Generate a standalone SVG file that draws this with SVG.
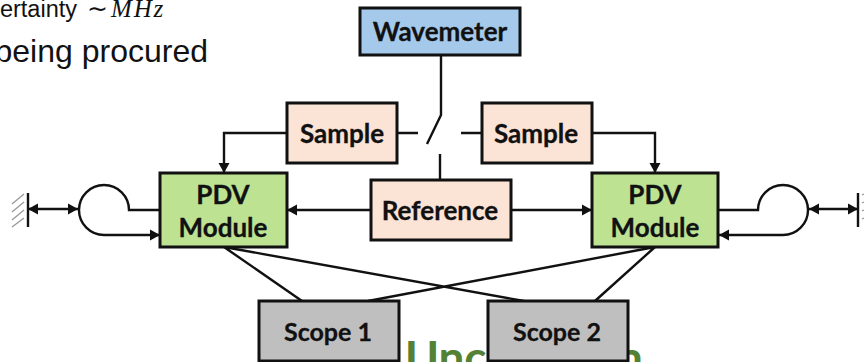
<svg xmlns="http://www.w3.org/2000/svg" width="864" height="362" viewBox="0 0 864 362">
<style>
.b{stroke:#111;stroke-width:3}
.lbl{font-family:Lato,"Liberation Sans",sans-serif;font-weight:700;font-size:26px;fill:#111;text-anchor:middle;stroke:#111;stroke-width:.3}
.ln{fill:none;stroke:#111;stroke-width:2.4}
.peach{fill:#fbe3d6}.green{fill:#bce292}.gray{fill:#bfbfbf}.blue{fill:#a4c9eb}
.arr{marker-end:url(#a)}
.hatch{stroke:#999;stroke-width:1.3;fill:none}
</style>
<defs>
<marker id="a" markerUnits="userSpaceOnUse" markerWidth="12" markerHeight="14" refX="10" refY="7" orient="auto-start-reverse"><path d="M0 1.5L10 7L0 12.5Z" fill="#111"/></marker>
</defs>
<rect width="864" height="362" fill="#fff"/>
<g id="heading">
<text x="77" y="17" text-anchor="end" font-family="Liberation Sans,sans-serif" font-size="23.5" fill="#111">ertainty</text>
<text x="87" y="17" font-family="Liberation Serif,serif" font-size="25" fill="#111">∼</text>
<text x="111" y="17" font-family="Liberation Serif,serif" font-style="italic" font-size="25" letter-spacing="1.8" fill="#111">MHz</text>
<text x="208" y="62" text-anchor="end" font-family="Liberation Sans,sans-serif" font-size="32" fill="#111">being procured</text>
</g>
<g id="title-fragment" font-family="Lato,sans-serif" font-weight="700" font-size="46" fill="#548235">
<text x="405" y="374">Unch</text>
<text x="617" y="374">n</text>
</g>
<g id="connectors">
<path class="ln" d="M441 55V115L427 144M397 133H418M461 133H481M440 154V180"/>
<path class="ln arr" d="M287 133H224V173"/>
<path class="ln arr" d="M592 133H655V173"/>
<path class="ln arr" d="M370 210H287"/>
<path class="ln arr" d="M511 210H592"/>
<path class="ln arr" d="M160 210H129A25 25 0 1 0 104 235H160"/>
<path class="ln arr" d="M719 210H758A25 25 0 1 1 783 235H719"/>
<path class="ln arr" style="marker-start:url(#a)" d="M28 209H78"/>
<path class="ln arr" style="marker-start:url(#a)" d="M809 209H858"/>
<path class="ln" d="M224 247L302 301M224 247L524 301M655 247L595 301M655 247L368 301"/>
<path class="ln" d="M28 193V227M858 193V227"/>
<path class="hatch" d="M12 204L24 194M12 212L24 202M12 220L24 210M12 227L24 218"/>
<path class="hatch" d="M862 195L864 194M862 203L864 202M862 211L864 210M862 219L864 218"/>
</g>
<g id="wavemeter"><rect class="b blue" x="360" y="8" width="160" height="47"/><text class="lbl" x="440" y="41">Wavemeter</text></g>
<g id="sample-left"><rect class="b peach" x="287" y="103" width="110" height="60"/><text class="lbl" x="342" y="143">Sample</text></g>
<g id="sample-right"><rect class="b peach" x="482" y="103" width="110" height="60"/><text class="lbl" x="536" y="143">Sample</text></g>
<g id="reference"><rect class="b peach" x="371" y="180" width="140" height="60"/><text class="lbl" x="440" y="220">Reference</text></g>
<g id="pdv-left"><rect class="b green" x="160" y="173" width="127" height="74"/><text class="lbl" x="223" y="204">PDV</text><text class="lbl" x="223" y="237">Module</text></g>
<g id="pdv-right"><rect class="b green" x="592" y="173" width="126" height="74"/><text class="lbl" x="655" y="204">PDV</text><text class="lbl" x="655" y="237">Module</text></g>
<g id="scope-1"><rect class="b gray" x="259" y="301" width="140" height="60"/><text class="lbl" style="font-size:25px" x="328" y="341">Scope 1</text></g>
<g id="scope-2"><rect class="b gray" x="488" y="301" width="140" height="60"/><text class="lbl" style="font-size:25px" x="557" y="341">Scope 2</text></g>
</svg>
